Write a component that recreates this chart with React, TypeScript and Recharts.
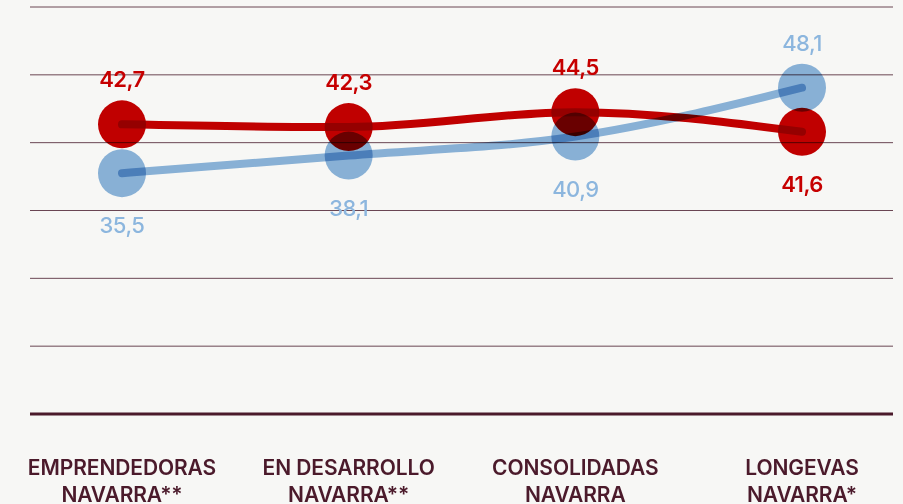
import { LineChart, Line, XAxis, YAxis, CartesianGrid } from "recharts";

const categories = [
  "EMPRENDEDORAS NAVARRA**",
  "EN DESARROLLO NAVARRA**",
  "CONSOLIDADAS NAVARRA",
  "LONGEVAS NAVARRA*",
];
const redValues = [42.7, 42.3, 44.5, 41.6];
const blueValues = [35.5, 38.1, 40.9, 48.1];
const yTicks = [0, 10, 20, 30, 40, 50, 60];

const data = categories.map((c, i) => ({
  name: c,
  red: redValues[i],
  blue: blueValues[i],
}));

const RED = "#c60000";
const BLUE = "#8cb6de";
const INK = "#4b1a2b";

const fmt = (v: number) => v.toFixed(1).replace(".", ",");

function makeLabel(own: number[], other: number[], color: string, weight: number) {
  return (p: any) => {
    const i = p.index;
    const above = own[i] >= other[i];
    return (
      <text
        key={"l" + i}
        x={p.x}
        y={above ? p.y - 37 : p.y + 60}
        textAnchor="middle"
        fill={color}
        fontSize={22}
        fontWeight={weight}
        fontFamily="Inter, Arial, sans-serif"
        letterSpacing={-0.5}
      >
        {fmt(own[i])}
      </text>
    );
  };
}

function makeDot(color: string) {
  return (p: any) => (
    <circle
      key={"d" + p.index}
      className="blend"
      cx={p.cx}
      cy={p.cy}
      r={24}
      fill={color}
    />
  );
}

function CategoryTick({ x, y, payload }: any) {
  const s: string = payload.value;
  const cut = s.lastIndexOf(" ");
  const lines = [s.slice(0, cut), s.slice(cut + 1)];
  return (
    <g>
      {lines.map((t, k) => (
        <text
          key={k}
          x={x}
          y={y + 59 + k * 27}
          textAnchor="middle"
          fill={INK}
          fontSize={21}
          fontWeight={600}
          fontFamily="Inter, Arial, sans-serif"
          letterSpacing={-0.1}
        >
          {t}
        </text>
      ))}
    </g>
  );
}

export default function App() {
  return (
    <div
      style={{
        position: "absolute",
        left: 0,
        top: 0,
        width: 903,
        height: 504,
        background: "#f7f7f5",
        overflow: "hidden",
      }}
    >
      <style>{`.recharts-line-curve, .blend { mix-blend-mode: multiply; }`}</style>
      <LineChart
        width={903}
        height={504}
        data={data}
        margin={{ top: 7, right: 10, bottom: 10, left: 30 }}
      >
        <CartesianGrid vertical={false} stroke="#6a4653" strokeWidth={1} />
        <XAxis
          dataKey="name"
          height={80}
          padding={{ left: 92, right: 91 }}
          axisLine={{ stroke: INK, strokeWidth: 3 }}
          tickLine={false}
          tickSize={0}
          tick={<CategoryTick />}
          interval={0}
        />
        <YAxis hide domain={[0, 60]} ticks={yTicks} />
        <Line
          dataKey="red"
          type="monotone"
          stroke={RED}
          strokeWidth={8}
          strokeLinecap="round"
          dot={makeDot(RED)}
          activeDot={false}
          label={makeLabel(redValues, blueValues, RED, 600)}
          isAnimationActive={false}
        />
        <Line
          dataKey="blue"
          type="monotone"
          stroke={BLUE}
          strokeWidth={8}
          strokeLinecap="round"
          dot={makeDot(BLUE)}
          activeDot={false}
          label={makeLabel(blueValues, redValues, BLUE, 500)}
          isAnimationActive={false}
        />
      </LineChart>
    </div>
  );
}
